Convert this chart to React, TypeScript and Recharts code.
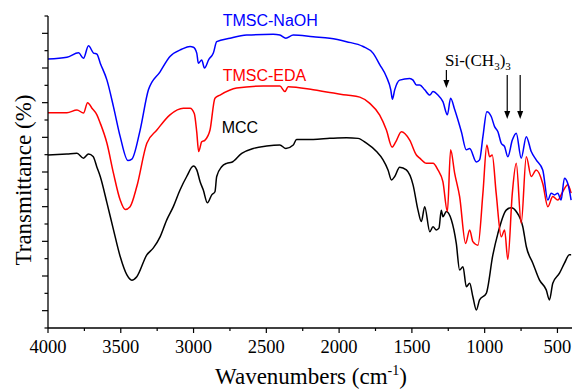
import React from 'react';
import { LineChart, Line, XAxis, YAxis, ReferenceLine } from 'recharts';

// MCC
const mccWave = [4000,3870,3801,3756,3722,3690,3664,3641,3595,3550,3504,3458,3424,3390,3321,3276,3230,3184,3139,3093,3047,3001,2978,2955,2933,2905,2875,2853,2841,2807,2772,2738,2669,2590,2498,2407,2366,2315,2292,2178,2064,1949,1870,1812,1743,1698,1664,1640,1618,1584,1538,1492,1458,1435,1412,1377,1355,1332,1314,1298,1287,1263,1229,1195,1172,1149,1126,1103,1081,1057,1035,989,944,909,852,817,783,738,714,669,623,577,555,532,486,452,418,406];
const mccT = [49.9,50.2,50.4,49.0,50.2,49.5,46.4,43.7,36.1,28.3,20.6,15.3,13.8,14.8,21.1,23.1,26.3,31.2,35.0,39.8,43.7,46.7,45.6,42.2,39.8,36.1,38.4,39.3,43.7,46.5,47.5,47.8,50.4,51.8,52.5,52.8,51.8,52.8,54.4,54.4,54.7,54.9,54.7,53.3,50.9,48.5,45.6,42.7,43.7,46.4,45.6,41.3,34.0,30.7,35.0,27.8,29.2,28.3,28.8,34.0,32.1,33.6,31.2,24.4,16.7,17.7,11.9,12.9,9.0,5.2,8.1,10.0,21.0,27.3,34.0,34.7,33.6,29.2,23.5,18.7,13.8,11.0,8.1,12.9,15.8,18.7,21.1,21.1];

// TMSC-EDA
const edaWave = [4000,3870,3801,3756,3728,3698,3664,3641,3595,3550,3504,3470,3436,3390,3321,3252,3162,3070,3024,2995,2978,2965,2944,2921,2887,2853,2818,2704,2521,2407,2372,2350,2178,2064,1949,1858,1789,1721,1675,1636,1611,1572,1515,1469,1446,1400,1355,1321,1287,1256,1234,1206,1172,1131,1103,1081,1046,1012,985,966,948,921,886,863,841,810,783,749,714,680,646,601,566,532,498,464,429,406];
const edaT = [62.1,62.1,62.9,62.0,65.0,63.4,61.5,59.1,53.3,44.6,36.9,34.2,35.0,40.8,53.3,57.1,61.5,63.4,63.4,61.9,56.5,50.9,53.7,54.2,57.1,66.3,67.2,69.2,69.8,69.8,68.2,69.6,68.7,67.9,67.2,66.6,64.8,61.4,57.1,52.2,53.7,56.6,54.2,49.9,49.0,47.5,47.5,45.6,42.2,33.6,51.4,44.6,37.9,24.4,28.3,24.9,23.9,38.9,52.8,49.4,49.9,38.9,26.3,28.3,19.8,38.9,47.5,30.2,49.4,43.7,45.6,41.7,35.0,37.9,36.9,39.3,41.3,38.9];

// TMSC-NaOH
const naohWave = [4000,3870,3790,3756,3722,3687,3664,3641,3595,3550,3504,3451,3424,3367,3310,3230,3162,3081,3024,3001,2978,2967,2944,2925,2895,2864,2841,2750,2635,2453,2407,2366,2315,2178,2064,1949,1835,1767,1721,1675,1645,1634,1618,1584,1515,1492,1469,1446,1412,1377,1355,1321,1287,1256,1234,1206,1160,1126,1103,1057,1035,1012,985,955,932,909,886,863,841,810,783,749,714,680,646,601,566,543,520,498,475,452,429,406];
const naohT = [77.6,78.1,79.4,77.8,81.4,79.3,79.0,76.4,71.5,63.8,55.2,48.3,48.7,57.1,68.7,73.9,78.3,80.4,81.2,81.0,79.3,76.4,77.3,75.0,77.5,79.3,82.6,83.6,84.5,84.7,84.5,83.6,84.5,84.0,83.6,82.6,81.2,79.3,76.0,72.5,68.7,66.0,68.7,71.5,72.0,71.5,70.1,70.1,68.7,67.2,68.2,67.2,65.3,61.5,66.3,63.0,56.6,51.4,51.8,47.9,48.5,55.2,62.4,61.0,58.1,56.6,53.3,52.3,49.4,54.2,56.2,49.0,55.2,50.9,48.5,45.6,36.9,38.9,38.4,38.9,36.9,43.2,41.7,36.9];

const xTicks = [4000,3750,3500,3250,3000,2750,2500,2250,2000,1750,1500,1250,1000,750,500];
const yTicks = [0,5,10,15,20,25,30,35,40,45,50,55,60,65,70,75,80,85,90];

// Si-(CH3)3 arrows: wavenumber, top, tip
const arrowWave = [1263, 845, 756];
const arrowTop = [74.4, 73.0, 73.0];
const arrowTip = [69.2, 60.3, 60.3];

const zip = (w: number[], t: number[]) => w.map((v, i) => ({ w: v, t: t[i] }));
const mcc = zip(mccWave, mccT);
const eda = zip(edaWave, edaT);
const naoh = zip(naohWave, naohT);

const SERIF = '"Liberation Serif", "Times New Roman", serif';
const SANS = '"Liberation Sans", Arial, sans-serif';
const serifStyle = { fontFamily: SERIF };
const sansStyle = { fontFamily: SANS };

const XTick = (props: any) => {
  const { x, y, payload } = props;
  const major = payload.value % 500 === 0;
  return (
    <g>
      <line x1={x} y1={y} x2={x} y2={y + (major ? 5 : 3)} stroke="#000" strokeWidth={1.2} />
      {major && (
        <text x={x} y={y + 25} textAnchor="middle" style={serifStyle} fontSize={18.5} fill="#000">
          {String(payload.value)}
        </text>
      )}
    </g>
  );
};

const YTick = (props: any) => {
  const { x, y, payload } = props;
  const major = payload.value % 10 === 5;
  return <line x1={x - (major ? 6 : 3.5)} y1={y} x2={x} y2={y} stroke="#000" strokeWidth={1.2} />;
};

const arrowShape = (p: any) => {
  const { x1, y1, x2, y2 } = p;
  return (
    <g>
      <line x1={x1} y1={y1} x2={x2} y2={y2 - 6} stroke="#000" strokeWidth={1.2} />
      <polygon points={`${x2},${y2} ${x2 - 3},${y2 - 8} ${x2 + 3},${y2 - 8}`} fill="#000" />
    </g>
  );
};

const W = 572;
const H = 390;

export default function App() {
  return (
    <div style={{ position: 'absolute', left: 0, top: 0, width: W, height: H, background: '#fff' }}>
      <LineChart width={W} height={H} margin={{ top: 16, right: 0, bottom: 0, left: 0 }}>
        <XAxis
          type="number"
          dataKey="w"
          domain={[400, 4000]}
          reversed
          ticks={xTicks}
          interval={0}
          tick={(p: any) => <XTick {...p} />}
          tickLine={false}
          tickSize={0}
          tickMargin={0}
          height={62}
          allowDataOverflow
          axisLine={{ stroke: '#000', strokeWidth: 1.3 }}
        />
        <YAxis
          type="number"
          domain={[0, 90]}
          ticks={yTicks}
          interval={0}
          tick={(p: any) => <YTick {...p} />}
          tickLine={false}
          tickSize={0}
          tickMargin={0}
          width={48}
          allowDataOverflow
          axisLine={{ stroke: '#000', strokeWidth: 1.3 }}
        />
        <Line data={mcc} dataKey="t" type="monotone" stroke="#000000" strokeWidth={1.5} dot={false} isAnimationActive={false} />
        <Line data={eda} dataKey="t" type="monotone" stroke="#ff0000" strokeWidth={1.5} dot={false} isAnimationActive={false} />
        <Line data={naoh} dataKey="t" type="monotone" stroke="#0000ff" strokeWidth={1.5} dot={false} isAnimationActive={false} />
        {arrowWave.map((w, i) => (
          <ReferenceLine
            key={i}
            segment={[{ x: w, y: arrowTop[i] }, { x: w, y: arrowTip[i] }]}
            shape={arrowShape}
            stroke="#000"
          />
        ))}
      </LineChart>
      <svg width={W} height={H} style={{ position: 'absolute', left: 0, top: 0, pointerEvents: 'none' }}>
        <text x={222.7} y={25.7} style={sansStyle} fontSize={16} fill="#0000ff">TMSC-NaOH</text>
        <text x={222.7} y={80.7} style={sansStyle} fontSize={16} fill="#ff0000">TMSC-EDA</text>
        <text x={221.7} y={132.7} style={sansStyle} fontSize={16} fill="#000">MCC</text>
        <text x={445} y={66} style={serifStyle} fontSize={17} fill="#000">
          Si-(CH<tspan fontSize={11} dy={4}>3</tspan><tspan fontSize={17} dy={-4}>)</tspan><tspan fontSize={11} dy={4}>3</tspan>
        </text>
        <text transform="rotate(-90)" x={-180} y={30.5} textAnchor="middle" style={serifStyle} fontSize={23} fill="#000">
          Transmittance (%)
        </text>
        <text x={311} y={384} textAnchor="middle" style={serifStyle} fontSize={23} fill="#000">
          Wavenumbers (cm<tspan fontSize={14} dy={-9}>-1</tspan><tspan dy={9}>)</tspan>
        </text>
      </svg>
    </div>
  );
}
